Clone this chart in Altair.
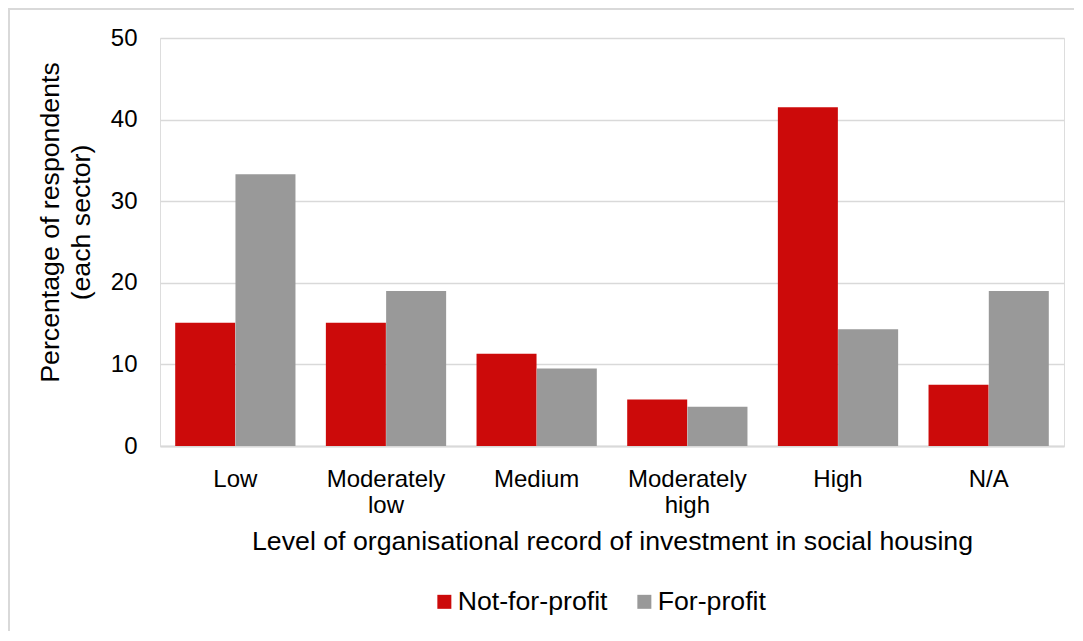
import altair as alt
import pandas as pd

categories = ["Low", "Moderately low", "Medium", "Moderately high", "High", "N/A"]
series_names = ["Not-for-profit", "For-profit"]
not_for_profit = [15.1, 15.1, 11.3, 5.7, 41.5, 7.5]
for_profit = [33.3, 19.0, 9.5, 4.8, 14.3, 19.0]
y_ticks = [0, 10, 20, 30, 40, 50]
colors = ["#CC0A0A", "#999999"]

rows = []
for c, a, b in zip(categories, not_for_profit, for_profit):
    rows.append({"level": c, "sector": series_names[0], "pct": a})
    rows.append({"level": c, "sector": series_names[1], "pct": b})
df = pd.DataFrame(rows)

FONT = "Liberation Sans"
TITLE_SIZE = 26.7

bars = alt.Chart(df).mark_bar(size=60).encode(
    x=alt.X(
        "level:N",
        sort=categories,
        scale=alt.Scale(paddingInner=0.2, paddingOuter=0.1),
        axis=alt.Axis(
            title="Level of organisational record of investment in social housing",
            labelAngle=0,
            labelExpr="split(datum.label, ' ')",
            labelFontSize=24,
            labelLineHeight=26,
            labelBaseline="alphabetic",
            labelPadding=40,
            labelColor="#000000",
            labelFont=FONT,
            titleFont=FONT,
            titleFontSize=TITLE_SIZE,
            titleFontWeight="normal",
            titleColor="#000000",
            titleBaseline="alphabetic",
            titleY=103,
            domain=True,
            domainColor="#D9D9D9",
            domainWidth=2,
            ticks=False,
            grid=False,
        ),
    ),
    xOffset=alt.XOffset("sector:N", sort=series_names, scale=alt.Scale(paddingInner=0, paddingOuter=0)),
    y=alt.Y(
        "pct:Q",
        scale=alt.Scale(domain=[0, 50], nice=False),
        axis=alt.Axis(
            title=["Percentage of respondents", "(each sector)"],
            values=y_ticks,
            labelFontSize=24,
            labelFont=FONT,
            labelColor="#000000",
            labelPadding=23,
            labelBaseline="middle",
            titleFont=FONT,
            titleFontSize=TITLE_SIZE,
            titleFontWeight="normal",
            titleColor="#000000",
            titleLineHeight=31,
            titleBaseline="alphabetic",
            titleAlign="center",
            titleAngle=270,
            titleX=-102,
            titleY=184,
            domain=False,
            ticks=False,
            grid=True,
            gridColor="#D9D9D9",
            gridWidth=1.5,
        ),
    ),
    color=alt.Color(
        "sector:N",
        sort=series_names,
        scale=alt.Scale(domain=series_names, range=colors),
        legend=alt.Legend(
            title=None,
            orient="none",
            legendX=271,
            legendY=550,
            direction="horizontal",
            symbolType="square",
            symbolSize=196,
            symbolStrokeWidth=0,
            labelFontSize=TITLE_SIZE,
            labelFont=FONT,
            labelColor="#000000",
            labelOffset=0,
            columnPadding=23,
            padding=0,
        ),
    ),
)

frame = alt.Chart(pd.DataFrame({"k": [0]})).mark_rect(
    filled=False, stroke="#D9D9D9", strokeWidth=2
).encode(
    x=alt.value(-151),
    x2=alt.value(930),
    y=alt.value(-29),
    y2=alt.value(620),
)

chart = alt.layer(frame, bars).properties(
    width=904,
    height=408,
    autosize=alt.AutoSizeParams(type="none"),
    padding={"left": 152, "top": 30, "right": 10, "bottom": 185},
).configure_view(stroke=None).configure(background="#FFFFFF")

chart.save("out.html", embed_options={"renderer": "svg", "actions": False})
